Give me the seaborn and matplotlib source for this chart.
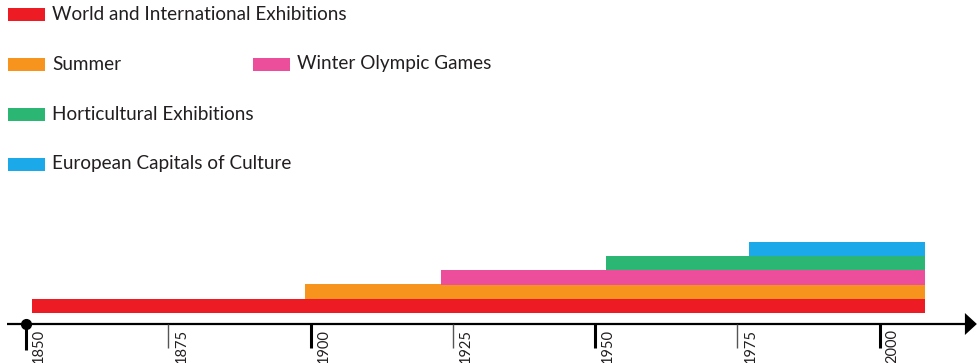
import numpy as np
import matplotlib
matplotlib.use("Agg")
import matplotlib.pyplot as plt
import seaborn as sns
from matplotlib.patches import Rectangle, Polygon

events = ["World and International Exhibitions", "Summer", "Winter Olympic Games",
          "Horticultural Exhibitions", "European Capitals of Culture"]
start_year = [1851, 1899, 1923, 1952, 1977]
end_year = [2008, 2008, 2008, 2008, 2008]
colors = ["#ED1C24", "#F7941D", "#EC4E9C", "#2BB673", "#1CA9E9"]
tick_years = [1850, 1875, 1900, 1925, 1950, 1975, 2000]

sns.set_theme(style="white")
plt.rcParams['font.family'] = ['Lato', 'DejaVu Sans']
txt = "#231F20"

fig = plt.figure(figsize=(9.78, 3.63), dpi=100)
ax = fig.add_axes([0, 0, 1, 1])
ax.set_xlim(1845.43, 2017.3)
ax.set_ylim(363, 0)
ax.axis('off')

# stacked timeline bars
for i, (s, e, c) in enumerate(zip(start_year, end_year, colors)):
    ax.barh(306 - 14.3 * i, e - s, left=s, height=14.5, color=c, linewidth=0)

# time axis with arrow
ax.plot([1846.7, 2015.2], [324, 324], color="black", lw=1.6, solid_capstyle="butt")
ax.add_patch(Polygon([[2015.0, 313], [2017.1, 324], [2015.0, 335]], closed=True,
                     color="black", lw=0))
ax.plot(1850, 324, marker="o", ms=7, color="black")

for yr in tick_years:
    major = (yr % 50 == 0)
    ax.plot([yr, yr], [324, 350 if yr == 1850 else 348],
            color="black" if major else "#555555", lw=2.2 if major else 1.0,
            solid_capstyle="butt")
    ax.text(yr + 2.3, 329, str(yr), rotation=90, ha="center", va="top",
            fontsize=10.5, color=txt)

# legend drawn in pixel space
lg = fig.add_axes([0, 0, 1, 1])
lg.set_xlim(0, 978)
lg.set_ylim(363, 0)
lg.axis('off')
lg.patch.set_alpha(0)
legend_pos = [(8, 14), (8, 64), (253, 64), (8, 114), (8, 164)]
for (x, y), name, c in zip(legend_pos, events, colors):
    lg.add_patch(Rectangle((x, y - 6.5), 37, 13, color=c, lw=0))
    lg.text(x + 44, y, name, ha="left", va="center", fontsize=13.6, color=txt)

fig.savefig("out.png", dpi=100)
plt.close()
